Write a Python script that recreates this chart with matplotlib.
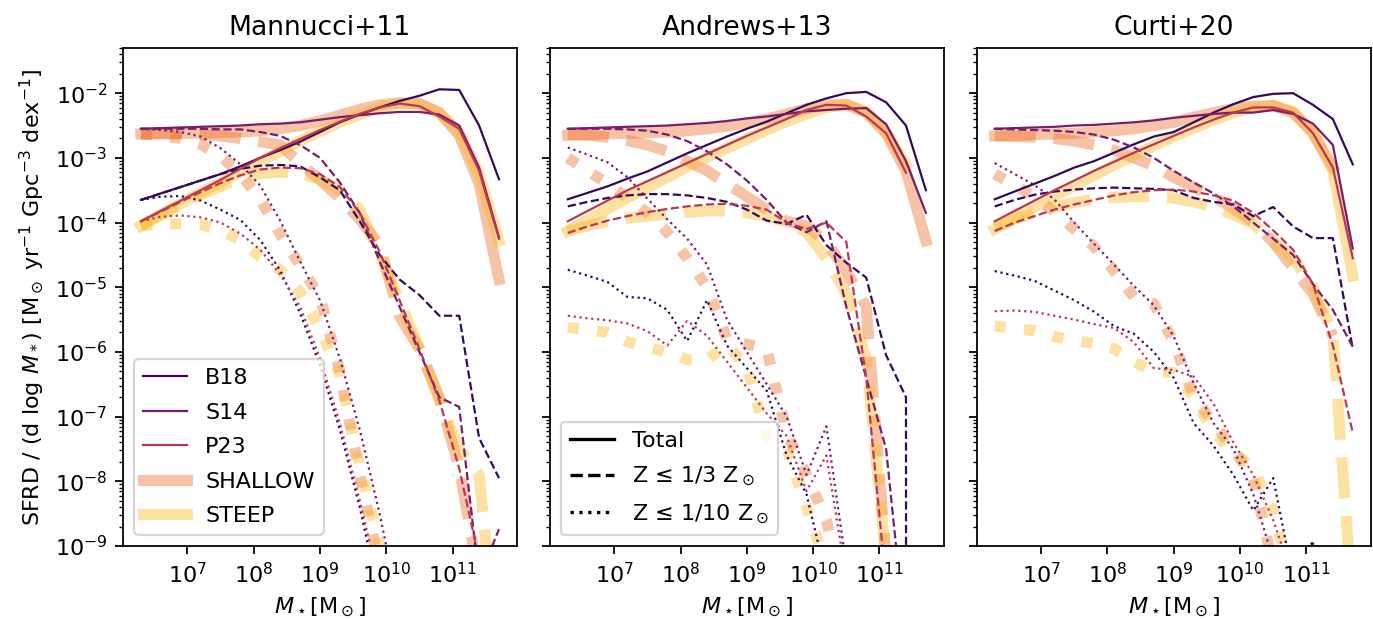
import numpy as np
import matplotlib
matplotlib.use('Agg')
import matplotlib.pyplot as plt
from matplotlib.lines import Line2D
from matplotlib.ticker import LogLocator, NullLocator

nan = np.nan
inf = np.inf

# stellar mass bins, log10(M*/Msun)
log_mass = [6.3, 6.6, 6.9, 7.2, 7.5, 7.8, 8.1, 8.4, 8.7, 9.0,
            9.3, 9.6, 9.9, 10.2, 10.5, 10.8, 11.1, 11.4, 11.7]

titles = ['Mannucci+11', 'Andrews+13', 'Curti+20']
models = ['B18', 'S14', 'P23', 'SHALLOW', 'STEEP']
z_labels = ['Total', r'Z ≤ 1/3 $\mathrm{Z}_\odot$', r'Z ≤ 1/10 $\mathrm{Z}_\odot$']

# log10 SFRD per dex (nan = not plotted, -inf = zero)
# --- Mannucci+11
m11_b18_tot = [-3.65, -3.55, -3.45, -3.35, -3.25, -3.13, -3.0, -2.88, -2.75, -2.6, -2.45, -2.33, -2.22, -2.12, -2.04, -1.94, -1.95, -2.5, -3.33]
m11_b18_z3 = [-3.65, -3.55, -3.45, -3.35, -3.25, -3.17, -3.12, -3.11, -3.13, -3.3, -3.5, -3.98, -4.5, -4.88, -5.12, -5.44, -5.44, -7.33, -7.95]
m11_b18_z10 = [-3.65, -3.6, -3.59, -3.66, -3.8, -3.96, -4.27, -4.74, -5.4, -6.2, -7.2, -8.4, -9.8, nan, nan, nan, nan, nan, nan]
m11_s14_tot = [-2.55, -2.54, -2.53, -2.52, -2.51, -2.5, -2.48, -2.47, -2.45, -2.41, -2.37, -2.34, -2.31, -2.29, -2.29, -2.33, -2.5, -3.15, -4.23]
m11_s14_z3 = [-2.55, -2.55, -2.55, -2.55, -2.56, -2.56, -2.6, -2.66, -2.8, -3.0, -3.38, -3.85, -4.6, -5.3, -6.0, -6.7, -6.85, -9.5, -8.74]
m11_s14_z10 = [-2.55, -2.57, -2.6, -2.67, -2.85, -3.1, -3.43, -3.97, -4.6, -5.2, -6.1, -7.2, -8.5, -10.0, nan, nan, nan, nan, nan]
m11_p23_tot = [-3.98, -3.82, -3.66, -3.5, -3.34, -3.17, -3.0, -2.85, -2.71, -2.57, -2.44, -2.32, -2.22, -2.16, -2.2, -2.36, -2.55, -3.2, -4.25]
m11_p23_z3 = [-3.98, -3.83, -3.68, -3.53, -3.39, -3.27, -3.18, -3.15, -3.16, -3.25, -3.45, -3.85, -4.45, -5.2, -5.95, -6.75, -7.8, -9.2, nan]
m11_p23_z10 = [-3.98, -3.91, -3.89, -3.92, -4.0, -4.17, -4.42, -4.8, -5.3, -6.1, -7.1, -8.3, -9.6, nan, nan, nan, nan, nan, nan]
m11_shallow_tot = [-2.63, -2.62, -2.62, -2.62, -2.61, -2.6, -2.58, -2.55, -2.5, -2.43, -2.34, -2.25, -2.18, -2.15, -2.16, -2.3, -2.65, -3.4, -4.88]
m11_shallow_z3 = [-2.63, -2.63, -2.63, -2.64, -2.66, -2.7, -2.75, -2.8, -3.08, -3.34, -3.62, -3.95, -4.35, -5.45, -5.95, -6.7, -7.8, -9.5, nan]
m11_shallow_z10 = [-2.63, -2.65, -2.7, -2.79, -2.97, -3.25, -3.64, -4.18, -4.66, -5.15, -6.3, -7.9, -9.3, nan, nan, nan, nan, nan, nan]
m11_steep_tot = [-4.05, -3.88, -3.71, -3.54, -3.38, -3.22, -3.06, -2.9, -2.74, -2.59, -2.45, -2.33, -2.22, -2.16, -2.17, -2.3, -2.6, -3.25, -4.28]
m11_steep_z3 = [-4.05, -3.88, -3.72, -3.57, -3.44, -3.32, -3.24, -3.22, -3.24, -3.33, -3.5, -3.8, -4.5, -5.2, -5.95, -6.75, -7.5, -7.9, -11.0]
m11_steep_z10 = [-4.05, -4.02, -4.02, -4.03, -4.12, -4.27, -4.53, -4.73, -5.07, -5.65, -6.35, -7.75, -9.0, -10.5, nan, nan, nan, nan, nan]

# --- Andrews+13
a13_b18_tot = [-3.64, -3.54, -3.44, -3.32, -3.21, -3.07, -2.93, -2.8, -2.67, -2.55, -2.44, -2.31, -2.18, -2.08, -2.0, -1.98, -2.14, -2.5, -3.5]
a13_b18_z3 = [-3.75, -3.68, -3.62, -3.58, -3.56, -3.56, -3.58, -3.62, -3.68, -3.8, -3.97, -4.02, -3.88, -4.35, -4.62, -4.85, -6.05, -6.7, -inf]
a13_b18_z10 = [-4.73, -4.82, -4.92, -5.15, -5.17, -5.35, -5.83, -5.2, -5.9, -6.25, -6.6, -7.6, -8.2, -9.5, nan, nan, nan, nan, nan]
a13_s14_tot = [-2.55, -2.54, -2.53, -2.52, -2.51, -2.5, -2.48, -2.46, -2.43, -2.39, -2.36, -2.32, -2.28, -2.26, -2.24, -2.23, -2.48, -3.05, -3.85]
a13_s14_z3 = [-2.55, -2.55, -2.55, -2.56, -2.58, -2.64, -2.74, -2.9, -3.1, -3.35, -3.65, -4.0, -4.15, -3.98, -5.3, -6.4, -7.5, -10.5, nan]
a13_s14_z10 = [-2.84, -2.95, -3.07, -3.3, -3.63, -3.95, -4.25, -4.65, -5.5, -6.0, -6.5, -7.0, -7.9, -7.15, -9.3, nan, nan, nan, nan]
a13_p23_tot = [-3.98, -3.82, -3.66, -3.5, -3.36, -3.22, -3.08, -2.94, -2.8, -2.66, -2.53, -2.4, -2.26, -2.18, -2.19, -2.36, -2.62, -3.23, nan]
a13_p23_z3 = [-4.16, -4.06, -3.97, -3.9, -3.84, -3.79, -3.75, -3.72, -3.71, -3.74, -3.8, -4.0, -4.1, -4.0, -4.3, -6.4, -9.6, nan, nan]
a13_p23_z10 = [-5.44, -5.48, -5.51, -5.56, -5.68, -5.9, -5.52, -5.75, -6.15, -6.55, -6.95, -7.3, -8.15, -7.6, -9.5, nan, nan, nan, nan]
a13_shallow_tot = [-2.65, -2.64, -2.63, -2.62, -2.61, -2.6, -2.58, -2.55, -2.51, -2.46, -2.4, -2.32, -2.24, -2.18, -2.17, -2.3, -2.62, -3.2, -4.28]
a13_shallow_z3 = [-2.64, -2.65, -2.68, -2.73, -2.8, -2.9, -3.05, -3.2, -3.4, -3.6, -3.8, -3.98, -4.05, -4.3, -4.75, -5.3, -9.2, nan, nan]
a13_shallow_z10 = [-3.0, -3.2, -3.4, -3.62, -3.85, -4.15, -4.55, -5.0, -5.8, -5.88, -5.95, -7.25, -7.9, -8.6, -10.0, nan, nan, nan, nan]
a13_steep_tot = [-4.13, -3.96, -3.79, -3.62, -3.46, -3.3, -3.14, -2.99, -2.85, -2.71, -2.57, -2.44, -2.32, -2.22, -2.19, -2.28, -2.6, -3.1, nan]
a13_steep_z3 = [-4.13, -4.05, -3.98, -3.93, -3.9, -3.87, -3.84, -3.82, -3.82, -3.85, -3.9, -4.0, -4.15, -4.55, -5.1, -6.1, -9.2, nan, nan]
a13_steep_z10 = [-5.62, -5.66, -5.7, -5.84, -5.93, -6.0, -6.12, -6.12, -5.89, -6.22, -7.3, -7.5, -8.4, -9.3, nan, nan, nan, nan, nan]

# --- Curti+20
c20_b18_tot = [-3.64, -3.52, -3.4, -3.28, -3.15, -3.05, -2.92, -2.79, -2.67, -2.6, -2.45, -2.3, -2.17, -2.06, -2.01, -2.0, -2.18, -2.4, -3.1]
c20_b18_z3 = [-3.75, -3.65, -3.57, -3.52, -3.49, -3.47, -3.46, -3.47, -3.48, -3.5, -3.62, -3.68, -3.72, -3.9, -3.76, -4.06, -4.24, -4.24, -5.95]
c20_b18_z10 = [-4.75, -4.82, -4.9, -5.05, -5.2, -5.38, -5.6, -5.72, -6.0, -6.4, -7.1, -7.45, -7.9, -8.45, -7.95, -9.5, -8.92, -inf, nan]
c20_s14_tot = [-2.55, -2.54, -2.53, -2.52, -2.5, -2.49, -2.47, -2.45, -2.42, -2.38, -2.35, -2.32, -2.3, -2.3, -2.26, -2.32, -2.47, -2.8, -4.4]
c20_s14_z3 = [-2.55, -2.56, -2.57, -2.58, -2.6, -2.64, -2.72, -2.84, -3.0, -3.2, -3.38, -3.55, -3.75, -4.0, -4.25, -4.5, -4.95, -5.35, -5.92]
c20_s14_z10 = [-3.08, -3.25, -3.42, -3.64, -4.0, -4.33, -4.65, -4.98, -5.28, -5.76, -6.48, -7.1, -7.5, -8.2, -9.2, nan, nan, nan, nan]
c20_p23_tot = [-3.98, -3.82, -3.66, -3.5, -3.35, -3.2, -3.06, -2.92, -2.79, -2.66, -2.53, -2.41, -2.3, -2.22, -2.22, -2.3, -2.62, -3.15, -4.55]
c20_p23_z3 = [-4.13, -4.0, -3.9, -3.8, -3.72, -3.65, -3.58, -3.53, -3.5, -3.49, -3.52, -3.58, -3.66, -3.85, -4.12, -4.42, -4.95, -5.9, -7.25]
c20_p23_z10 = [-5.37, -5.36, -5.38, -5.44, -5.5, -5.57, -5.63, -5.85, -6.25, -6.28, -6.38, -6.8, -7.4, -7.9, -8.6, -9.5, nan, nan, nan]
c20_shallow_tot = [-2.66, -2.65, -2.64, -2.63, -2.62, -2.6, -2.58, -2.55, -2.5, -2.45, -2.37, -2.3, -2.24, -2.2, -2.19, -2.3, -2.62, -3.15, nan]
c20_shallow_z3 = [-2.66, -2.67, -2.68, -2.7, -2.74, -2.8, -2.88, -3.0, -3.12, -3.3, -3.45, -3.6, -3.78, -4.0, -4.3, -4.7, -5.1, -5.75, nan]
c20_shallow_z10 = [-3.25, -3.42, -3.6, -3.83, -4.1, -4.37, -4.75, -5.15, -5.25, -5.85, -6.68, -7.1, -7.5, -7.95, -9.3, nan, nan, nan, nan]
c20_steep_tot = [-4.1, -3.93, -3.76, -3.59, -3.43, -3.27, -3.11, -2.96, -2.81, -2.67, -2.54, -2.42, -2.3, -2.22, -2.2, -2.28, -2.6, -3.2, -4.83]
c20_steep_z3 = [-4.08, -3.95, -3.85, -3.76, -3.69, -3.64, -3.61, -3.6, -3.6, -3.62, -3.68, -3.76, -3.88, -4.02, -4.3, -4.55, -5.0, -5.7, -10.0]
c20_steep_z10 = [-5.6, -5.64, -5.67, -5.76, -5.82, -5.87, -5.95, -6.15, -6.3, -6.32, -6.7, -7.25, -7.55, -7.8, -8.45, -9.6, nan, nan, nan]

curves = {
    'Mannucci+11': [(m11_b18_tot, m11_b18_z3, m11_b18_z10),
                    (m11_s14_tot, m11_s14_z3, m11_s14_z10),
                    (m11_p23_tot, m11_p23_z3, m11_p23_z10),
                    (m11_shallow_tot, m11_shallow_z3, m11_shallow_z10),
                    (m11_steep_tot, m11_steep_z3, m11_steep_z10)],
    'Andrews+13': [(a13_b18_tot, a13_b18_z3, a13_b18_z10),
                   (a13_s14_tot, a13_s14_z3, a13_s14_z10),
                   (a13_p23_tot, a13_p23_z3, a13_p23_z10),
                   (a13_shallow_tot, a13_shallow_z3, a13_shallow_z10),
                   (a13_steep_tot, a13_steep_z3, a13_steep_z10)],
    'Curti+20': [(c20_b18_tot, c20_b18_z3, c20_b18_z10),
                 (c20_s14_tot, c20_s14_z3, c20_s14_z10),
                 (c20_p23_tot, c20_p23_z3, c20_p23_z10),
                 (c20_shallow_tot, c20_shallow_z3, c20_shallow_z10),
                 (c20_steep_tot, c20_steep_z3, c20_steep_z10)],
}

colors = plt.get_cmap('inferno')(np.linspace(0, 1, 7)[1:-1])
styles = ['-', '--', ':']

dpi = 160
fig, axes = plt.subplots(1, 3, figsize=(1373 / dpi, 619 / dpi), dpi=dpi, sharey=True)
fig.subplots_adjust(left=0.0896, right=0.9983, bottom=0.1179, top=0.9225, wspace=0.0838)

mass = 10 ** np.array(log_mass)
for ax, title in zip(axes, titles):
    for k, model in enumerate(models):
        thick = model in ('SHALLOW', 'STEEP')
        for ls, vals in zip(styles, curves[title][k]):
            ax.plot(mass, 10 ** np.array(vals), color=colors[k], ls=ls,
                    lw=5 if thick else 1, alpha=0.4 if thick else 1,
                    zorder=1 if thick else 2,
                    label=model if ls == '-' else None)
    ax.set_xscale('log')
    ax.set_yscale('log')
    ax.set_ylim(1e-9, 5e-2)
    ax.xaxis.set_major_locator(LogLocator(base=10, numticks=20))
    ax.xaxis.set_minor_locator(NullLocator())
    ax.yaxis.set_major_locator(LogLocator(base=10, numticks=20))
    ax.yaxis.set_minor_locator(LogLocator(base=10, subs=np.arange(2, 10), numticks=20))
    ax.set_title(title, fontsize=12)
    ax.set_xlabel(r'$M_\star[\mathrm{M}_\odot]$')

axes[0].set_ylabel(r'SFRD / (d log $M_*$) [$\mathrm{M}_\odot$ yr$^{-1}$ Gpc$^{-3}$ dex$^{-1}$]')
axes[0].legend(loc='lower left', labelspacing=0.65)

# linestyle key
handles = [Line2D([], [], color='k', ls=ls, lw=1.5) for ls in styles]
axes[1].legend(handles, z_labels, loc='lower left', labelspacing=0.65)

fig.savefig('out.png', dpi=dpi)
